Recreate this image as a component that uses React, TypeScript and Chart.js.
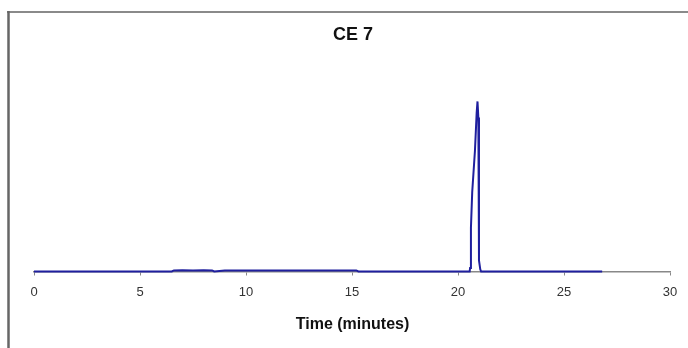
import React, { useEffect, useRef } from "react";
import { Chart, registerables } from "chart.js";

Chart.register(...registerables);

const chartTitle = "CE 7";
const xAxisTitle = "Time (minutes)";
const xTicks = [0, 5, 10, 15, 20, 25, 30];

// Retention time (minutes)
const times = [
  0, 6.5, 6.6, 7.0, 7.5, 8.0, 8.4, 8.5, 9.0, 10, 11, 12, 13, 14, 15.2, 15.3,
  20.55, 20.57, 20.61, 20.67, 20.8, 20.88, 20.92, 20.96, 20.99, 21.05, 21.09, 26.8,
];
// Detector signal (arbitrary units)
const signal = [
  0, 0, 0.5, 0.6, 0.5, 0.6, 0.5, 0, 0.4, 0.5, 0.4, 0.5, 0.5, 0.4, 0.5, 0,
  0, 1.6, 19.8, 36, 55, 72, 77.3, 70, 5, 1, 0, 0,
];

const framePlugin = {
  id: "frameAndText",
  afterDraw(chart: any) {
    const ctx = chart.ctx;
    ctx.save();
    ctx.strokeStyle = "#8a8a8a";
    ctx.lineWidth = 2;
    ctx.beginPath();
    ctx.moveTo(7, 12);
    ctx.lineTo(688, 12);
    ctx.stroke();
    ctx.strokeStyle = "#666";
    ctx.lineWidth = 2.5;
    ctx.beginPath();
    ctx.moveTo(8.5, 11);
    ctx.lineTo(8.5, 348);
    ctx.stroke();
    ctx.fillStyle = "#111";
    ctx.textAlign = "center";
    ctx.textBaseline = "middle";
    ctx.font = "bold 18px 'Liberation Sans', Arial, sans-serif";
    ctx.fillText(chartTitle, 353, 35);
    ctx.font = "bold 16px 'Liberation Sans', Arial, sans-serif";
    ctx.fillText(xAxisTitle, 352.5, 325);
    ctx.restore();
  },
};

export default function App() {
  const ref = useRef<HTMLCanvasElement | null>(null);
  useEffect(() => {
    if (!ref.current) return;
    const chart = new Chart(ref.current, {
      type: "line",
      data: {
        datasets: [
          {
            data: times.map((t, i) => ({ x: t, y: signal[i] })),
            borderColor: "#1f1f9e",
            borderWidth: 2,
            pointRadius: 0,
            tension: 0,
            fill: false,
            clip: false as any,
          },
        ],
      },
      options: {
        animation: false,
        responsive: false,
        devicePixelRatio: 1,
        layout: { padding: { left: 34, right: 18, top: 51.5, bottom: 40 } },
        plugins: { legend: { display: false }, tooltip: { enabled: false }, title: { display: false } },
        scales: {
          x: {
            type: "linear",
            min: 0,
            max: 30,
            afterBuildTicks: (scale: any) => {
              scale.ticks = xTicks.map((v) => ({ value: v }));
            },
            afterFit: (scale: any) => {
              scale.height = 36.5;
            },
            grid: { drawOnChartArea: false, drawTicks: true, tickLength: 4, color: "#888" },
            border: { color: "#888", width: 1.5 },
            ticks: {
              color: "#333",
              padding: 9,
              maxRotation: 0,
              font: { family: "'Liberation Sans', Arial, sans-serif", size: 13 },
            },
          },
          y: { display: false, min: 0, max: 100 },
        },
      },
      plugins: [framePlugin],
    });
    return () => chart.destroy();
  }, []);
  return (
    <div style={{ position: "fixed", left: 0, top: 0, width: 688, height: 348, background: "#fff" }}>
      <canvas ref={ref} width={688} height={348} />
    </div>
  );
}
